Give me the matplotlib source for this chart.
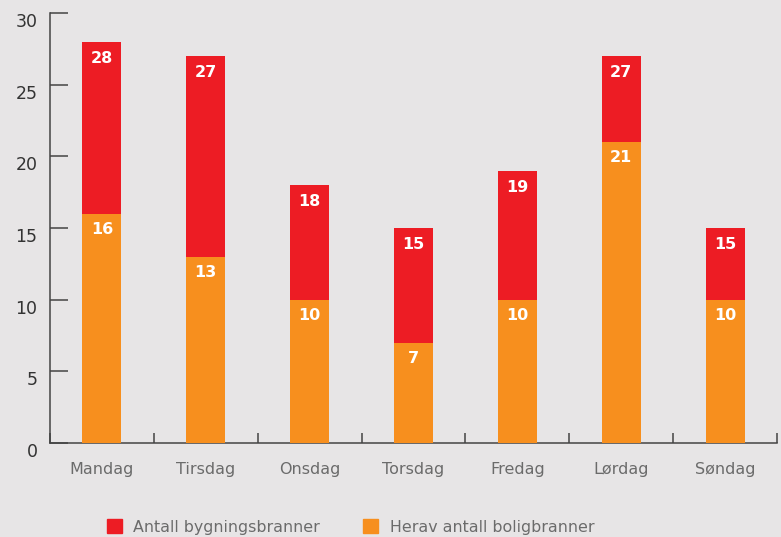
import numpy as np
import matplotlib
matplotlib.use("Agg")
import matplotlib.pyplot as plt
from matplotlib.patches import Patch
from matplotlib.transforms import ScaledTranslation

# data
days = ["Mandag", "Tirsdag", "Onsdag", "Torsdag", "Fredag", "Lørdag", "Søndag"]
bygning = [28, 27, 18, 15, 19, 27, 15]
bolig = [16, 13, 10, 7, 10, 21, 10]
yticks = [0, 5, 10, 15, 20, 25, 30]

red = "#ed1c24"
orange = "#f78f1e"
bg = "#e7e5e6"
axis_col = "#444444"

fig = plt.figure(figsize=(7.81, 5.37), dpi=100, facecolor=bg)
ax = fig.add_axes([50 / 781, 1 - 443 / 537, 727 / 781, 430 / 537])
ax.set_facecolor(bg)

x = np.arange(len(days))
w = 0.375
ax.bar(x, bygning, width=w, color=red, zorder=2)
ax.bar(x, bolig, width=w, color=orange, zorder=3)

# value labels at top of each segment
for xi, v in zip(x, bygning):
    ax.annotate(str(v), (xi, v), xytext=(0, -12), textcoords="offset points",
                ha="center", va="center", color="white", fontsize=11.5,
                fontweight="bold", zorder=5)
for xi, v in zip(x, bolig):
    ax.annotate(str(v), (xi, v), xytext=(0, -11.5), textcoords="offset points",
                ha="center", va="center", color="white", fontsize=11.5,
                fontweight="bold", zorder=5)

ax.set_xlim(-0.5, len(days) - 0.5)
ax.set_ylim(0, 30)

for s in ["top", "right"]:
    ax.spines[s].set_visible(False)
for s in ["left", "bottom"]:
    ax.spines[s].set_color(axis_col)
    ax.spines[s].set_linewidth(1.1)

ax.set_yticks(yticks)
ax.tick_params(axis="y", direction="in", length=13, width=1.1, color=axis_col,
               labelsize=12.5, labelcolor="#333333", pad=9)
for lab in ax.get_yticklabels():
    lab.set_transform(lab.get_transform() + ScaledTranslation(0, -7 / 100, fig.dpi_scale_trans))

ax.set_xticks(x)
ax.set_xticklabels(days)
ax.tick_params(axis="x", which="major", length=0, labelsize=11.5,
               labelcolor="#6b6b6b", pad=14)
ax.set_xticks(np.arange(-0.5, len(days), 1), minor=True)
ax.tick_params(axis="x", which="minor", direction="in", length=7.5, width=1.1,
               color=axis_col)

handles = [Patch(color=red, label="Antall bygningsbranner"),
           Patch(color=orange, label="Herav antall boligbranner")]
fig.legend(handles=handles, loc="center left", bbox_to_anchor=(107 / 781, 1 - 527 / 537),
           ncol=2, frameon=False, fontsize=11.4, labelcolor="#6b6b6b",
           handlelength=0.95, handleheight=0.95, handletextpad=0.7,
           columnspacing=2.75, borderpad=0, borderaxespad=0)

fig.savefig("out.png", dpi=100, facecolor=bg)
